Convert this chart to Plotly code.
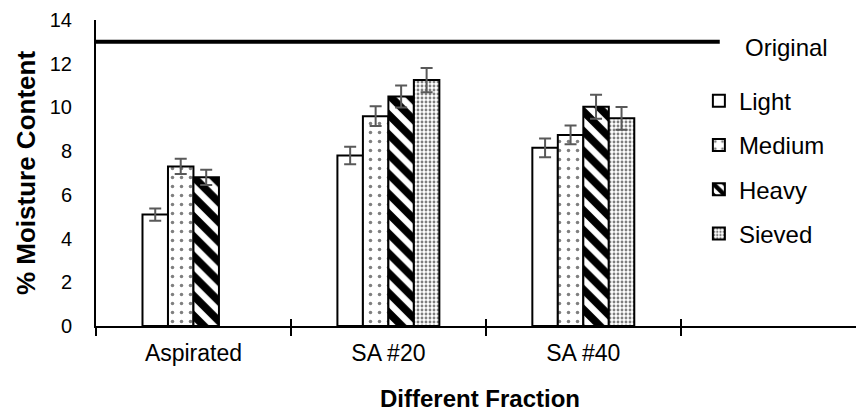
import plotly.graph_objects as go

categories = ["Aspirated", "SA #20", "SA #40"]
light = [5.1, 7.8, 8.15]
light_err = [0.28, 0.4, 0.43]
medium = [7.3, 9.6, 8.74]
medium_err = [0.35, 0.45, 0.43]
heavy = [6.8, 10.5, 10.03]
heavy_err = [0.35, 0.5, 0.55]
sieved = [None, 11.25, 9.5]
sieved_err = [0, 0.55, 0.52]
original = 13
y_ticks = [0, 2, 4, 6, 8, 10, 12, 14]

x_pos = list(range(len(categories)))
bounds = [-0.5] + [p + 0.5 for p in x_pos]

FONT = "Liberation Sans, Arial, sans-serif"
ERR = "#595959"

def err(arr):
    return dict(type="data", array=arr, color=ERR, thickness=2, width=6, visible=True)

fig = go.Figure()
fig.add_trace(go.Scatter(x=[-0.5, 2.7], y=[original, original], mode="lines",
                         line=dict(color="black", width=4), showlegend=False, hoverinfo="skip"))
fig.add_trace(go.Bar(x=x_pos, y=light, name="Light", legendgroup="a",
                     marker=dict(color="white", line=dict(color="black", width=2)),
                     error_y=err(light_err)))
fig.add_trace(go.Bar(x=x_pos, y=medium, name="Medium", legendgroup="b",
                     marker=dict(color="white", line=dict(color="black", width=2),
                                 pattern=dict(shape=".", size=9, solidity=0.12, fgcolor="black", bgcolor="white")),
                     error_y=err(medium_err)))
fig.add_trace(go.Bar(x=x_pos, y=heavy, name="Heavy", legendgroup="c",
                     marker=dict(color="white", line=dict(color="black", width=2),
                                 pattern=dict(shape="\\", size=14, solidity=0.55, fgcolor="black", bgcolor="white", fgopacity=1)),
                     error_y=err(heavy_err)))
fig.add_trace(go.Bar(x=x_pos, y=sieved, name="Sieved", legendgroup="d",
                     marker=dict(color="white", line=dict(color="black", width=2),
                                 pattern=dict(shape=".", size=4, solidity=0.4, fgcolor="black", bgcolor="white")),
                     error_y=err(sieved_err)))
fig.add_trace(go.Scatter(x=[None], y=[None], xaxis="x2", showlegend=False, hoverinfo="skip"))

fig.add_annotation(x=2.82, y=original, xref="x", yref="y", text="Original", showarrow=False,
                   xanchor="left", yanchor="middle", yshift=-6, font=dict(size=24, color="black", family=FONT))

fig.update_layout(
    width=856, height=408,
    margin=dict(l=88, r=0, t=12, b=90),
    plot_bgcolor="white", paper_bgcolor="white",
    font=dict(family=FONT, color="black"),
    barmode="group", bargap=0.477, bargroupgap=0,
    showlegend=True,
    legend=dict(x=0.785, y=0.808, xanchor="left", yanchor="top", font=dict(size=24),
                bgcolor="rgba(0,0,0,0)", tracegroupgap=10, itemwidth=30, traceorder="grouped"),
    xaxis=dict(range=[-0.5, 3.44], tickmode="array", tickvals=x_pos, ticktext=categories, automargin=False,
               ticks="", showline=True, linecolor="black", linewidth=2, showgrid=False, zeroline=False,
               tickfont=dict(size=23), ticklabelstandoff=5,
               minor=dict(tickmode="array", tickvals=bounds, ticks="outside", ticklen=8, tickwidth=2, tickcolor="black"),
               title=dict(text="<b>Different Fraction</b>", font=dict(size=24), standoff=26)),
    xaxis2=dict(overlaying="x", matches="x", anchor="y", side="bottom", tickmode="array", tickvals=bounds,
                ticks="inside", ticklen=7, tickwidth=2, tickcolor="black", showticklabels=False, automargin=False,
                showline=False, showgrid=False, zeroline=False),
    yaxis=dict(range=[0, 14], tickmode="array", tickvals=y_ticks, ticks="", showline=True, linecolor="black",
               linewidth=2, showgrid=False, zeroline=False, tickfont=dict(size=20), ticklabelstandoff=18,
               automargin=False, ticklabeloverflow="allow",
               title=dict(text="<b>% Moisture Content</b>", font=dict(size=26), standoff=7)),
)

fig.write_html("out.html")
